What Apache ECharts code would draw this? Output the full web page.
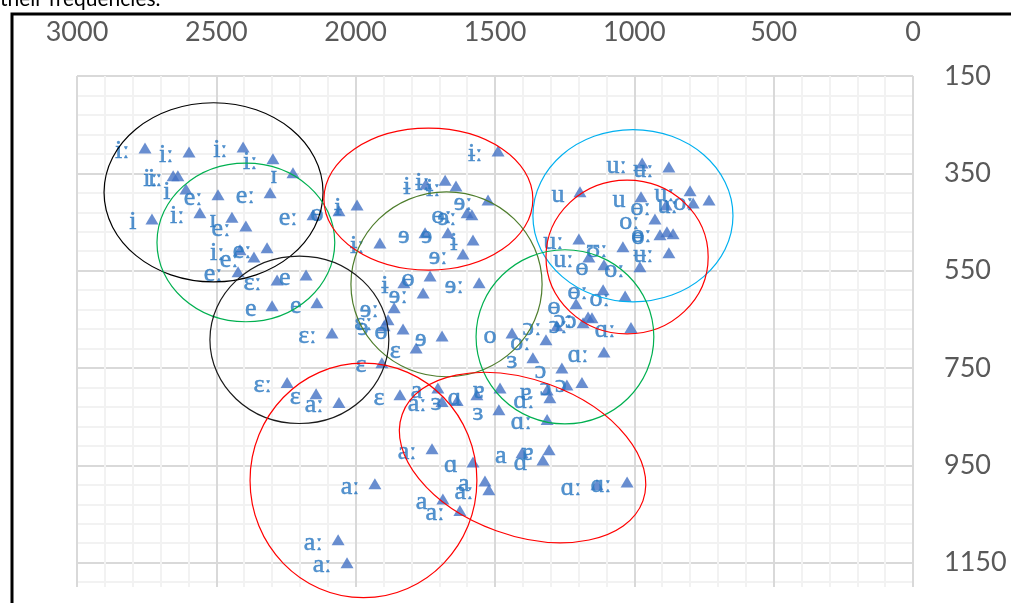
<!DOCTYPE html>
<html>
<head>
<meta charset="utf-8">
<script src="https://cdn.jsdelivr.net/npm/echarts@6/dist/echarts.min.js"></script>
<style>
  html, body { margin: 0; padding: 0; background: #ffffff; }
  #chart { width: 1011px; height: 603px; }
</style>
</head>
<body>
<div id="chart"></div>
<script>
// Vowel tokens: second formant (Hz), first formant (Hz) and IPA symbol
const f2Values = [
  2756, 2598, 2404, 2297, 2225, 2655, 2638, 2609, 2494, 2307,
  2731, 2559, 2444, 2394, 2153, 2415, 2318, 2365, 2422, 2282,
  2178, 2300, 2139, 2085, 1489, 1748, 1679, 1640, 1525, 1600,
  1583, 1995, 2060, 1913, 1751, 1669, 1579, 1615, 1827, 1733,
  1557, 1758, 1862, 1884, 1898, 1830, 1783, 1690, 1906, 2246,
  2142, 2060, 1841, 1705, 1690, 1636, 1565, 1482, 1486, 1313,
  1303, 1313, 1242, 1188, 1260, 1364, 1109, 1317, 1439, 1278,
  1184, 1166, 1152, 1012, 1112, 1033, 1209, 1109, 980, 1163,
  1199, 1041, 876, 972, 876, 1195, 976, 800, 789, 732,
  886, 926, 908, 883, 861, 1726, 1579, 1536, 1522, 1687,
  1626, 1931, 2063, 2031, 1306, 1328, 1403, 1134, 1026
];
const f1Values = [
  298, 306, 296, 320, 349, 355, 355, 382, 394, 390,
  444, 431, 440, 458, 435, 507, 503, 522, 552, 569,
  559, 622, 616, 678, 304, 372, 364, 376, 405, 431,
  435, 415, 427, 493, 472, 472, 487, 516, 575, 561,
  575, 596, 626, 651, 663, 670, 709, 684, 739, 780,
  803, 821, 805, 791, 819, 817, 805, 791, 836, 795,
  811, 856, 785, 780, 750, 729, 717, 692, 678, 663,
  657, 645, 647, 667, 589, 602, 618, 538, 542, 522,
  485, 501, 513, 329, 337, 388, 398, 386, 411, 405,
  415, 444, 476, 470, 474, 916, 943, 982, 1000, 1019,
  1043, 988, 1103, 1150, 918, 939, 924, 990, 984
];
const vowelLabels = [
  'iː', 'iː', 'iː', 'iː', 'ɪ', 'iː', 'iː', 'i', 'eː', 'eː',
  'i', 'iː', 'ɪ', 'eː', 'eː', 'iː', 'eː', 'eː', 'eː', 'ɛː',
  'e', 'e', 'e', 'ɛː', 'ɨː', 'ɨ', 'ɨː', 'ɨː', 'ɘː', 'ɵː',
  'ɘː', 'ɨ', 'ɵ', 'ɨː', 'ɘ', 'ɘ', 'ɨ', 'ɘː', 'ɨ', 'ɵ',
  'ɘː', 'ɘː', 'ɘː', 'ɛː', 'ɘ', 'ɵ', 'ɛ', 'ɘ', 'ɛ', 'ɛː',
  'ɛ', 'aː', 'ɛ', 'a', 'aː', 'ɜ', 'ɑ', 'ɐ', 'ɜ', 'ɐ',
  'ɑː', 'ɑː', 'ɔ', 'ɔ', 'ɔ', 'ɜ', 'ɑː', 'oː', 'o', 'ɔː',
  'ɔː', 'ɔː', 'ɔ', 'ɑː', 'ɵː', 'oː', 'ɵ', 'ɵ', 'oː', 'uː',
  'uː', 'ʊː', 'ʉː', 'uː', 'ʉː', 'u', 'u', 'uː', 'uː', 'oː',
  'ɵː', 'oː', 'ɵ', 'ɵː', '', 'aː', 'ɑ', 'a', 'aː', 'a',
  'aː', 'aː', 'aː', 'aː', 'ɐ', 'ɑ', 'a', 'ɑː', 'ɑː'
];

// Vowel-space regions: centre (F2, F1), half-widths in Hz, tilt in degrees
const regionF2 = [2510, 2394, 1739, 1674, 1005, 1026, 1249, 2202, 1972, 1401];
const regionF1 = [389, 492, 403, 578, 437, 522, 686, 692, 981, 934];
const regionSpanF2 = [393, 319, 375, 343, 359, 291, 319, 321, 407, 459];
const regionSpanF1 = [184, 163, 146, 190, 177, 158, 179, 172, 241, 160];
const regionTilt = [0, 0, 0, 0, 0, 0, 0, 0, 0, 19.8];
const regionStroke = ['#000000', '#00b050', '#ff0000', '#4e7d2c', '#00b0f0',
                      '#ff0000', '#00b050', '#1a1a1a', '#ff0000', '#ff0000'];

const points = f2Values.map((x, i) => [x, f1Values[i]]);
const regions = regionF2.map((x, i) => [x, regionF1[i], regionSpanF2[i], regionSpanF1[i], regionTilt[i]]);

const MAJOR = '#d9d9d9';
const MINOR = '#f2f2f2';
const axisFont = { color: '#595959', fontFamily: 'Lato, "Open Sans", sans-serif', fontSize: 27 };

const chart = echarts.init(document.getElementById('chart'), null, { renderer: 'canvas' });
chart.setOption({
  animation: false,
  backgroundColor: '#ffffff',
  grid: { left: 77, right: 98, top: 76, bottom: 16, containLabel: false },
  xAxis: {
    type: 'value', position: 'top', inverse: true,
    min: 0, max: 3000, interval: 100,
    axisLine: { show: false }, axisTick: { show: false },
    axisLabel: Object.assign({
      margin: 30,
      formatter: v => (v % 500 === 0 ? String(v) : '')
    }, axisFont),
    splitLine: { show: true, lineStyle: { width: 2, color: [MAJOR, MINOR, MINOR, MINOR, MINOR] } }
  },
  yAxis: {
    type: 'value', position: 'right', inverse: true,
    min: 150, max: 1200, interval: 40,
    axisLine: { show: false }, axisTick: { show: false },
    axisLabel: Object.assign({
      margin: 31,
      formatter: v => ((v - 150) % 200 === 0 ? String(v) : '')
    }, axisFont),
    splitLine: { show: true, showMaxLine: false, lineStyle: { width: 2, color: [MAJOR, MINOR, MINOR, MINOR, MINOR] } }
  },
  graphic: [
    {
      type: 'text', left: 0, top: -11, z: 10,
      style: { text: 'their frequencies.', fill: '#000000', font: '21px Lato, sans-serif' }
    },
    {
      type: 'rect', z: 10, silent: true,
      shape: { x: 12, y: 14, width: 1200, height: 800 },
      style: { fill: 'none', stroke: '#000000', lineWidth: 3 }
    }
  ],
  series: [
    {
      type: 'scatter',
      data: points,
      symbol: 'triangle',
      symbolSize: [13, 11],
      itemStyle: { color: '#4472c4' },
      label: {
        show: true, position: 'left', distance: 9, offset: [0, 3],
        formatter: p => vowelLabels[p.dataIndex],
        color: '#2a78c2',
        textBorderColor: '#2a78c2',
        textBorderWidth: 0.5,
        fontFamily: '"Liberation Serif", "DejaVu Serif", serif',
        fontSize: 26
      },
      z: 3
    },
    {
      type: 'custom',
      data: regions,
      z: 5,
      silent: true,
      renderItem: (params, api) => {
        const c = api.coord([api.value(0), api.value(1)]);
        const s = api.size([api.value(2), api.value(3)]);
        return {
          type: 'ellipse',
          x: c[0], y: c[1],
          rotation: -api.value(4) * Math.PI / 180,
          shape: { cx: 0, cy: 0, rx: s[0], ry: s[1] },
          style: { fill: 'none', stroke: regionStroke[params.dataIndex], lineWidth: 1.2 }
        };
      }
    }
  ]
});
</script>
</body>
</html>
